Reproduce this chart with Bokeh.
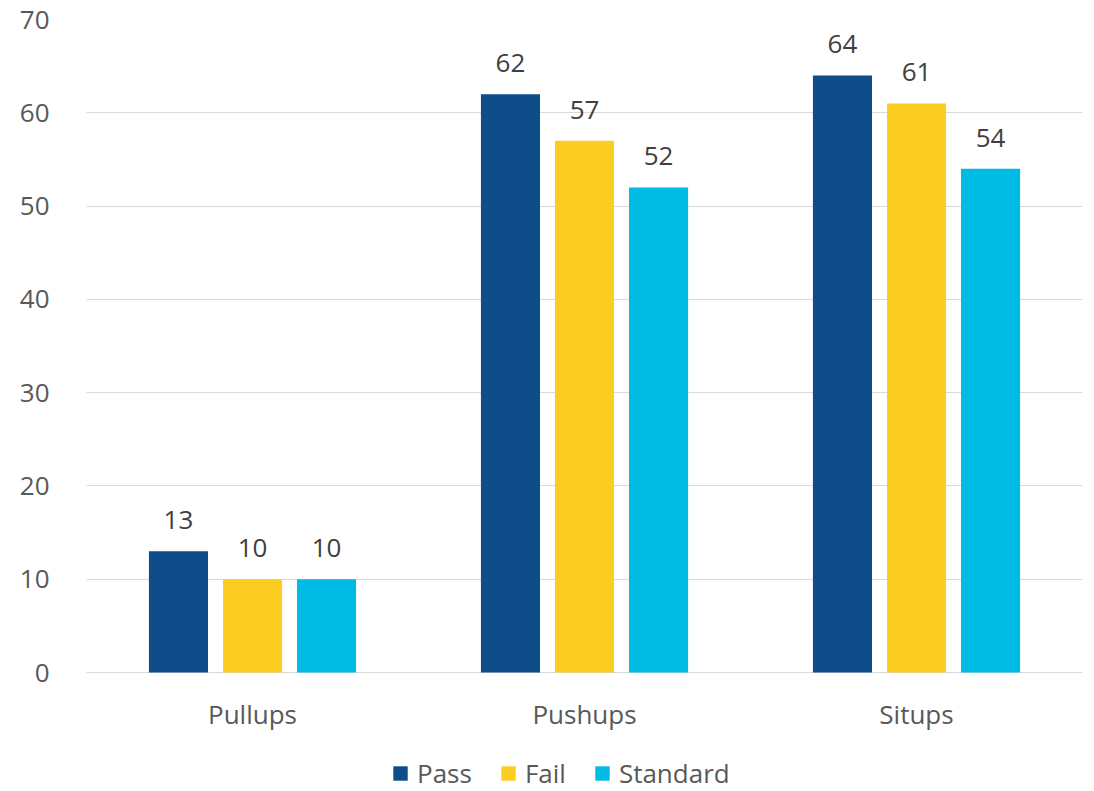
from bokeh.plotting import figure
from bokeh.models import ColumnDataSource, Range1d, LabelSet, Legend, LegendItem
from bokeh.core.properties import value
from bokeh.transform import dodge
from bokeh.embed import file_html
from bokeh.resources import INLINE

exercises = ["Pullups", "Pushups", "Situps"]
pass_vals = [13, 62, 64]
fail_vals = [10, 57, 61]
standard_vals = [10, 52, 54]
series_names = ["Pass", "Fail", "Standard"]
series_colors = ["#0E4C8A", "#FBCD21", "#00BCE4"]
y_ticks = [0, 10, 20, 30, 40, 50, 60, 70]

FONT = "Open Sans"
AXIS_TEXT = "#595959"
LABEL_TEXT = "#404040"
GRID = "#D9D9D9"

source = ColumnDataSource(dict(
    cat=exercises,
    base=[0] * len(exercises),
    Pass=pass_vals,
    Fail=fail_vals,
    Standard=standard_vals,
))

# the frame runs to the bottom of the page; the space under 0 holds the
# category names and the legend
TOP_PAD, PLOT_H, VALUE_H = 19, 791, 653
y_top = y_ticks[-1]
y_bottom = y_top - (PLOT_H - TOP_PAD) * y_top / VALUE_H

p = figure(
    x_range=exercises,
    y_range=Range1d(y_bottom, y_top),
    width=1094,
    height=PLOT_H,
    min_border_left=86,
    min_border_right=12,
    min_border_top=TOP_PAD,
    min_border_bottom=0,
    x_axis_location=None,
    output_backend="svg",
    toolbar_location=None,
)

offsets = [-0.223, 0.0, 0.223]
bar_width = 0.178
items = []
for name, color, off in zip(series_names, series_colors, offsets):
    r = p.vbar(x=dodge("cat", off, range=p.x_range), top=name, bottom=0,
               width=bar_width, source=source, fill_color=color, line_color=None)
    items.append(LegendItem(label=name, renderers=[r]))
    labels = LabelSet(x=dodge("cat", off, range=p.x_range), y=name, text=name,
                      source=source, text_align="center", text_baseline="middle",
                      y_offset=31, text_font=value(FONT), text_font_size="26px",
                      text_color=LABEL_TEXT)
    p.add_layout(labels)

# category names under the zero line
cat_labels = LabelSet(x="cat", y="base", text="cat", source=source,
                      text_align="center", text_baseline="middle", y_offset=-41,
                      text_font=value(FONT), text_font_size="26px",
                      text_color=AXIS_TEXT)
p.add_layout(cat_labels)

# y axis
p.yaxis.ticker = y_ticks
p.yaxis.axis_line_color = None
p.yaxis.major_tick_line_color = None
p.yaxis.minor_tick_line_color = None
p.yaxis.major_label_text_font = FONT
p.yaxis.major_label_text_font_size = "26px"
p.yaxis.major_label_text_color = AXIS_TEXT
p.yaxis.major_label_standoff = 31

p.xgrid.grid_line_color = None
p.ygrid.ticker = y_ticks
p.ygrid.grid_line_color = GRID
p.ygrid.grid_line_width = 1
p.outline_line_color = None

legend = Legend(items=items, orientation="horizontal", location=(305, 0),
                glyph_width=18, glyph_height=18, label_standoff=8, spacing=27,
                label_text_font=FONT, label_text_font_size="26px",
                label_text_color=AXIS_TEXT, border_line_color=None,
                background_fill_alpha=0, padding=0, margin=0)
p.add_layout(legend, "center")

open("out.html", "w").write(file_html(p, INLINE))
